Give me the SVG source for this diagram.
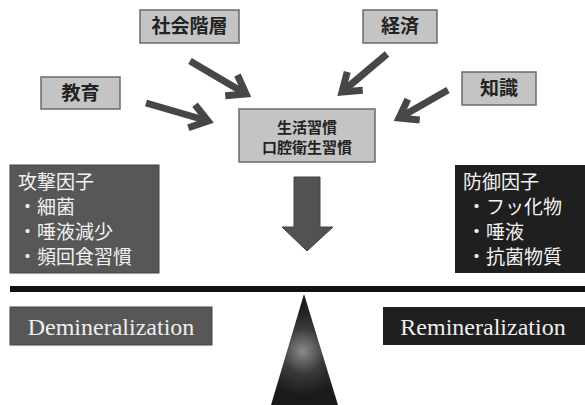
<svg xmlns="http://www.w3.org/2000/svg" width="585" height="405" viewBox="0 0 585 405">
<style>
.lb{fill:#c4c4c4;stroke:#6a6a6a;stroke-width:1.5}
.lt{font-family:"Noto Sans CJK JP","Noto Sans",sans-serif;font-weight:bold;fill:#222;text-anchor:middle}
.wt{font-family:"Noto Sans CJK JP","Noto Sans",sans-serif;fill:#f2f2f2;font-size:19px}
.et{font-family:"Liberation Serif","Times New Roman",serif;fill:#eeeeee;font-size:24px;text-anchor:middle}
.ar{fill:none;stroke:#474747;stroke-width:7;marker-end:url(#hd)}
</style>
<defs>
<marker id="hd" markerUnits="userSpaceOnUse" orient="auto" markerWidth="40" markerHeight="40" viewBox="-30 -20 40 40" refX="0" refY="0" overflow="visible">
<path d="M-17,-12 L0,0 L-17,12" fill="none" stroke="#474747" stroke-width="7" stroke-linejoin="miter"/>
</marker>
<radialGradient id="tg" cx="303" cy="351" r="45" gradientUnits="userSpaceOnUse">
<stop offset="0" stop-color="#8a8a8a"/>
<stop offset="0.5" stop-color="#3a3a3a"/>
<stop offset="1" stop-color="#1a1a1a"/>
</radialGradient>
</defs>
<g id="shakai"><rect class="lb" x="140" y="10" width="99" height="33"/><text class="lt" x="189.5" y="33" font-size="19">社会階層</text></g>
<g id="keizai"><rect class="lb" x="363" y="10" width="74" height="33"/><text class="lt" x="400" y="33" font-size="19">経済</text></g>
<g id="kyoiku"><rect class="lb" x="41" y="77" width="79" height="32"/><text class="lt" x="80.5" y="100" font-size="19">教育</text></g>
<g id="chishiki"><rect class="lb" x="462" y="72" width="74" height="33"/><text class="lt" x="499" y="95" font-size="19">知識</text></g>
<g id="center"><rect class="lb" x="239" y="109" width="136" height="53"/><text class="lt" font-size="15"><tspan x="307" y="133">生活習慣</tspan><tspan x="307" y="153">口腔衛生習慣</tspan></text></g>
<g id="connectors">
<path class="ar" d="M190,61 L246,94"/>
<path class="ar" d="M146,103 L208,121"/>
<path class="ar" d="M387,54 L342,92"/>
<path class="ar" d="M448,90 L399,118"/>
<path d="M294,177 H320 V227 H333 L307,251 L282,227 H294 Z" fill="#525252" stroke="#444" stroke-width="1"/>
</g>
<g id="attack"><rect x="10" y="165" width="149" height="108" fill="#575757" stroke="#444" stroke-width="1"/>
<text class="wt" x="18" y="189">攻撃因子</text>
<text class="wt" x="18" y="214">・細菌</text>
<text class="wt" x="18" y="239">・唾液減少</text>
<text class="wt" x="18" y="264">・頻回食習慣</text></g>
<g id="defense"><rect x="455" y="165" width="130" height="108" fill="#1f1f1f"/>
<text class="wt" x="463" y="189">防御因子</text>
<text class="wt" x="467" y="214">・フッ化物</text>
<text class="wt" x="467" y="239">・唾液</text>
<text class="wt" x="467" y="264">・抗菌物質</text></g>
<g id="balance"><rect x="10" y="286" width="575" height="6" fill="#111"/>
<path d="M304,294 L338,405 L271,405 Z" fill="url(#tg)"/></g>
<g id="demin"><rect x="10" y="307" width="202" height="38" fill="#575757" stroke="#444" stroke-width="1"/><text class="et" x="111" y="335">Demineralization</text></g>
<g id="remin"><rect x="383" y="307" width="202" height="38" fill="#1f1f1f"/><text class="et" x="483" y="335">Remineralization</text></g>
</svg>
